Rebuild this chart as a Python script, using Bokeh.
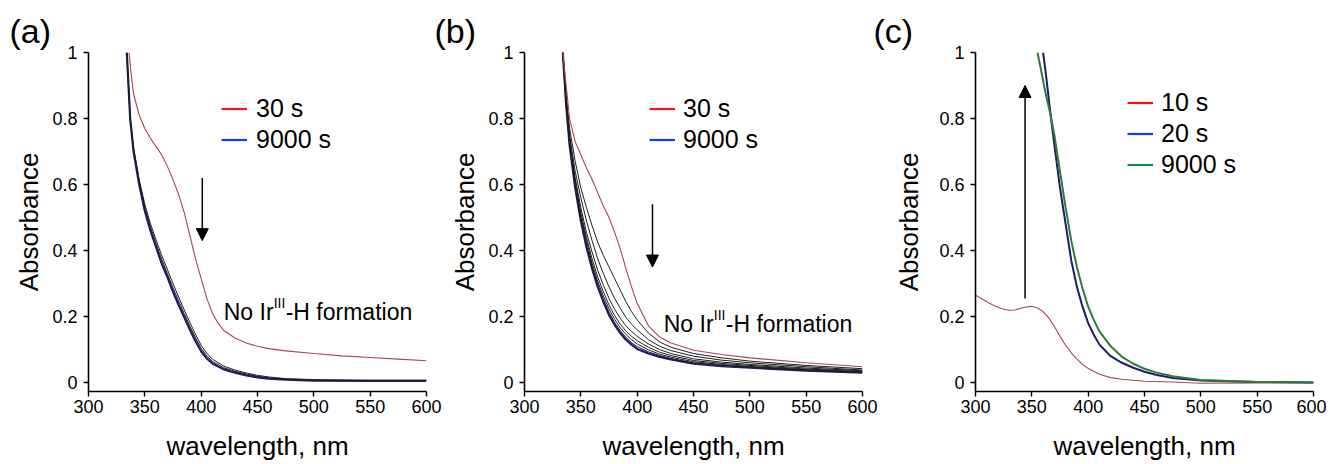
from bokeh.plotting import figure
from bokeh.layouts import row
from bokeh.models import Range1d, FixedTicker, Legend, LegendItem, Label, Arrow, NormalHead
from bokeh.embed import file_html
from bokeh.resources import INLINE

FONT = "Liberation Sans"

x_ticks = [300, 350, 400, 450, 500, 550, 600]
y_ticks = [0, 0.2, 0.4, 0.6, 0.8, 1]
y_tick_labels = ["0", "0.2", "0.4", "0.6", "0.8", "1"]

# ---------------- panel (a) ----------------
a_red_wl = [336, 338, 340, 345, 350, 355, 360, 365, 370, 375, 380, 385, 390, 395, 400,
            405, 410, 415, 420, 430, 440, 450, 460, 475, 500, 525, 550, 575, 600]
a_red_abs = [1.0, 0.93, 0.875, 0.81, 0.77, 0.74, 0.715, 0.69, 0.655, 0.615, 0.57, 0.515,
             0.445, 0.375, 0.315, 0.255, 0.21, 0.18, 0.158, 0.135, 0.12, 0.11, 0.103,
             0.096, 0.088, 0.081, 0.076, 0.071, 0.066]
a_wl = [334, 337, 340, 345, 350, 355, 360, 365, 370, 375, 380, 385, 390, 395, 400,
        405, 410, 420, 430, 440, 450, 460, 475, 500, 550, 600]
a_blue_abs = [1.0, 0.80, 0.70, 0.60, 0.52, 0.46, 0.41, 0.36, 0.32, 0.275, 0.235, 0.198,
              0.16, 0.125, 0.095, 0.073, 0.058, 0.04, 0.03, 0.022, 0.016, 0.012, 0.009,
              0.006, 0.005, 0.005]
a_black1_abs = [1.0, 0.80, 0.712, 0.615, 0.54, 0.481, 0.432, 0.385, 0.343, 0.300, 0.259,
                0.220, 0.182, 0.146, 0.113, 0.089, 0.071, 0.05, 0.038, 0.029, 0.022,
                0.017, 0.012, 0.009, 0.007, 0.007]
a_black2_abs = [1.0, 0.80, 0.706, 0.607, 0.53, 0.471, 0.421, 0.373, 0.331, 0.287, 0.247,
                0.209, 0.171, 0.136, 0.104, 0.081, 0.064, 0.045, 0.034, 0.026, 0.019,
                0.014, 0.010, 0.007, 0.006, 0.006]
a_legend_labels = ["30 s", "9000 s"]
a_arrow = [401, 0.62, 401, 0.43]
a_note = [420.0, 0.215]

# ---------------- panel (b) ----------------
b_wl = [334, 337, 340, 345, 350, 355, 360, 365, 370, 375, 380, 385, 390, 395, 400,
        410, 420, 430, 450, 475, 500, 550, 600]
b_red_abs = [1.0, 0.9, 0.80, 0.73, 0.69, 0.65, 0.615, 0.575, 0.535, 0.50, 0.455, 0.405,
             0.345, 0.29, 0.24, 0.172, 0.138, 0.12, 0.098, 0.085, 0.075, 0.06, 0.048]
b_black_abs = [
    [1.0, 0.87, 0.77, 0.67, 0.59, 0.53, 0.475, 0.425, 0.385, 0.35, 0.315, 0.28, 0.245,
     0.215, 0.19, 0.15, 0.123, 0.107, 0.088, 0.075, 0.065, 0.052, 0.042],
    [1.0, 0.86, 0.75, 0.64, 0.56, 0.49, 0.43, 0.375, 0.33, 0.29, 0.255, 0.225, 0.198,
     0.177, 0.16, 0.13, 0.11, 0.097, 0.08, 0.068, 0.06, 0.048, 0.038],
    [1.0, 0.85, 0.74, 0.62, 0.53, 0.455, 0.395, 0.34, 0.295, 0.255, 0.222, 0.195, 0.172,
     0.155, 0.14, 0.117, 0.1, 0.088, 0.072, 0.062, 0.055, 0.044, 0.036],
    [1.0, 0.85, 0.73, 0.61, 0.515, 0.44, 0.375, 0.32, 0.275, 0.235, 0.203, 0.177, 0.156,
     0.14, 0.127, 0.107, 0.092, 0.082, 0.067, 0.058, 0.052, 0.041, 0.034],
    [1.0, 0.845, 0.725, 0.60, 0.505, 0.43, 0.362, 0.307, 0.262, 0.223, 0.192, 0.166,
     0.146, 0.13, 0.117, 0.099, 0.086, 0.077, 0.063, 0.055, 0.049, 0.039, 0.032],
    [1.0, 0.84, 0.722, 0.595, 0.497, 0.418, 0.352, 0.297, 0.252, 0.213, 0.182, 0.157,
     0.137, 0.121, 0.109, 0.093, 0.082, 0.073, 0.06, 0.052, 0.047, 0.037, 0.031],
]
b_blue_abs = [1.0, 0.84, 0.72, 0.59, 0.49, 0.41, 0.345, 0.29, 0.245, 0.205, 0.175, 0.15,
              0.13, 0.115, 0.102, 0.088, 0.078, 0.07, 0.057, 0.05, 0.045, 0.036, 0.03]
b_legend_labels = ["30 s", "9000 s"]
b_arrow = [413.6, 0.54, 413.6, 0.35]
b_note = [423.6, 0.179]

# ---------------- panel (c) ----------------
c_red_wl = [300, 305, 310, 315, 320, 325, 330, 335, 340, 345, 350, 355, 360, 365, 370,
            375, 380, 385, 390, 395, 400, 410, 420, 430, 450, 475, 500, 550, 600]
c_red_abs = [0.265, 0.255, 0.245, 0.236, 0.228, 0.222, 0.219, 0.22, 0.225, 0.229, 0.231,
             0.226, 0.215, 0.196, 0.17, 0.14, 0.113, 0.09, 0.071, 0.055, 0.043, 0.025,
             0.015, 0.01, 0.004, 0.002, -0.002, -0.001, 0.0]
c_blue_wl = [360, 363, 366, 370, 375, 380, 385, 390, 395, 400, 405, 410, 420, 430, 440,
             450, 460, 475, 500, 550, 600]
c_blue_abs = [1.0, 0.92, 0.83, 0.72, 0.59, 0.48, 0.37, 0.29, 0.23, 0.18, 0.145, 0.115,
              0.08, 0.06, 0.045, 0.033, 0.024, 0.014, 0.006, 0.002, 0.0]
c_green_wl = [355, 358, 362, 366, 370, 375, 380, 385, 390, 395, 400, 405, 410, 420, 430,
              440, 450, 460, 475, 500, 550, 600]
c_green_abs = [1.0, 0.95, 0.88, 0.82, 0.75, 0.64, 0.53, 0.43, 0.35, 0.285, 0.23, 0.19,
               0.155, 0.11, 0.078, 0.057, 0.042, 0.031, 0.019, 0.008, 0.002, 0.0]
c_legend_labels = ["10 s", "20 s", "9000 s"]
c_arrow = [344, 0.255, 344, 0.90]

RED = "#a8474c"
NAVY = "#1c1c6e"
BLACK = "#1e1e1e"
GREEN = "#2f7a3c"
LEG_RED = "#ff1010"
LEG_BLUE = "#0a3cff"
LEG_GREEN = "#0a8a4a"


def make_fig(width, border_left, border_right, ylabel_standoff, panel_text,
             title_offset, margin_left):
    p = figure(width=width, height=464, output_backend="svg", toolbar_location=None,
               x_range=Range1d(300, 600), y_range=Range1d(-0.027, 1.0),
               min_border_left=border_left, min_border_right=border_right,
               min_border_top=52, min_border_bottom=73,
               margin=(0, 0, 0, margin_left))
    p.outline_line_color = None
    p.grid.visible = False
    p.background_fill_color = None
    p.border_fill_color = None
    p.title.text = panel_text
    p.title.align = "left"
    p.title.offset = title_offset
    p.title.text_font = FONT
    p.title.text_font_size = "34px"
    p.title.text_font_style = "normal"
    p.title.text_color = "black"
    p.title.standoff = 6
    p.xaxis.ticker = FixedTicker(ticks=x_ticks)
    p.yaxis.ticker = FixedTicker(ticks=y_ticks)
    p.yaxis.major_label_overrides = {t: s for t, s in zip(y_ticks, y_tick_labels)}
    for ax in (p.xaxis[0], p.yaxis[0]):
        ax.axis_line_width = 1.6
        ax.axis_line_color = "black"
        ax.major_tick_line_width = 1.4
        ax.major_tick_line_color = "black"
        ax.major_tick_out = 5
        ax.major_tick_in = 0
        ax.minor_tick_line_color = None
        ax.major_label_text_font = FONT
        ax.major_label_text_font_size = "18px"
        ax.major_label_text_color = "black"
        ax.axis_label_text_font = FONT
        ax.axis_label_text_font_size = "26px"
        ax.axis_label_text_font_style = "normal"
        ax.axis_label_text_color = "black"
    p.xaxis.axis_label = "wavelength, nm"
    p.yaxis.axis_label = "Absorbance"
    p.xaxis.major_label_standoff = 3
    p.xaxis.axis_label_standoff = 15
    p.yaxis.major_label_standoff = 6
    p.yaxis.axis_label_standoff = ylabel_standoff
    return p


def add_legend(p, items, loc, standoff):
    lg = Legend(items=items, location=loc, border_line_color=None,
                background_fill_alpha=0, padding=0, margin=0, spacing=0,
                glyph_width=26, glyph_height=31, label_height=31,
                label_standoff=standoff, label_text_font=FONT,
                label_text_font_size="25px", label_text_color="black",
                click_policy="none")
    p.add_layout(lg)


def proxy(p, xs, ys, color):
    # hidden copy of a curve, used only for the legend swatch colour
    return p.line(xs, ys, line_color=color, line_width=2.2, visible=False)


def add_arrow(p, a):
    p.add_layout(Arrow(end=NormalHead(size=12, fill_color="black", line_color="black"),
                       x_start=a[0], y_start=a[1], x_end=a[2], y_end=a[3],
                       line_width=1.5, line_color="black"))


def add_note(p, n):
    common = dict(x=n[0], y=n[1], text_font=FONT, text_color="black",
                  text_baseline="alphabetic")
    p.add_layout(Label(text="No Ir", text_font_size="23px", **common))
    p.add_layout(Label(text="III", text_font_size="14px", x_offset=50, y_offset=9, **common))
    p.add_layout(Label(text="-H formation", text_font_size="23px", x_offset=62, **common))


# ---- (a)
pa = make_fig(444, 88, 18, 5, "(a)", -79, 0)
pa.line(a_wl, a_blue_abs, line_color=NAVY, line_width=2.2)
pa.line(a_wl, a_black2_abs, line_color=BLACK, line_width=1.0)
pa.line(a_wl, a_black1_abs, line_color=BLACK, line_width=1.0)
pa.line(a_red_wl, a_red_abs, line_color=RED, line_width=1.1)
ra = proxy(pa, a_red_wl, a_red_abs, LEG_RED)
ba = proxy(pa, a_wl, a_blue_abs, LEG_BLUE)
add_legend(pa, [LegendItem(label=a_legend_labels[0], renderers=[ra]),
                LegendItem(label=a_legend_labels[1], renderers=[ba])], (133, 236.5), 9)
add_arrow(pa, a_arrow)
add_note(pa, a_note)

# ---- (b)
pb = make_fig(450, 94, 18, 5, "(b)", -90, -14)
pb.line(b_wl, b_blue_abs, line_color=NAVY, line_width=2.2)
for ys in b_black_abs:
    pb.line(b_wl, ys, line_color=BLACK, line_width=1.0)
pb.line(b_wl, b_red_abs, line_color=RED, line_width=1.1)
rb = proxy(pb, b_wl, b_red_abs, LEG_RED)
bb = proxy(pb, b_wl, b_blue_abs, LEG_BLUE)
add_legend(pb, [LegendItem(label=b_legend_labels[0], renderers=[rb]),
                LegendItem(label=b_legend_labels[1], renderers=[bb])], (125, 236.5), 8)
add_arrow(pb, b_arrow)
add_note(pb, b_note)

# ---- (c)
pc = make_fig(460, 109, 13, 12, "(c)", -102, -14)
pc.line(c_red_wl, c_red_abs, line_color=RED, line_width=1.1)
pc.line(c_blue_wl, c_blue_abs, line_color=NAVY, line_width=2.0)
pc.line(c_green_wl, c_green_abs, line_color=GREEN, line_width=2.0)
rc = proxy(pc, c_red_wl, c_red_abs, LEG_RED)
bc = proxy(pc, c_blue_wl, c_blue_abs, LEG_BLUE)
gc = proxy(pc, c_green_wl, c_green_abs, LEG_GREEN)
add_legend(pc, [LegendItem(label=c_legend_labels[0], renderers=[rc]),
                LegendItem(label=c_legend_labels[1], renderers=[bc]),
                LegendItem(label=c_legend_labels[2], renderers=[gc])], (152, 211.5), 8)
add_arrow(pc, c_arrow)

layout = row(pa, pb, pc)
open("out.html", "w").write(file_html(layout, INLINE))
